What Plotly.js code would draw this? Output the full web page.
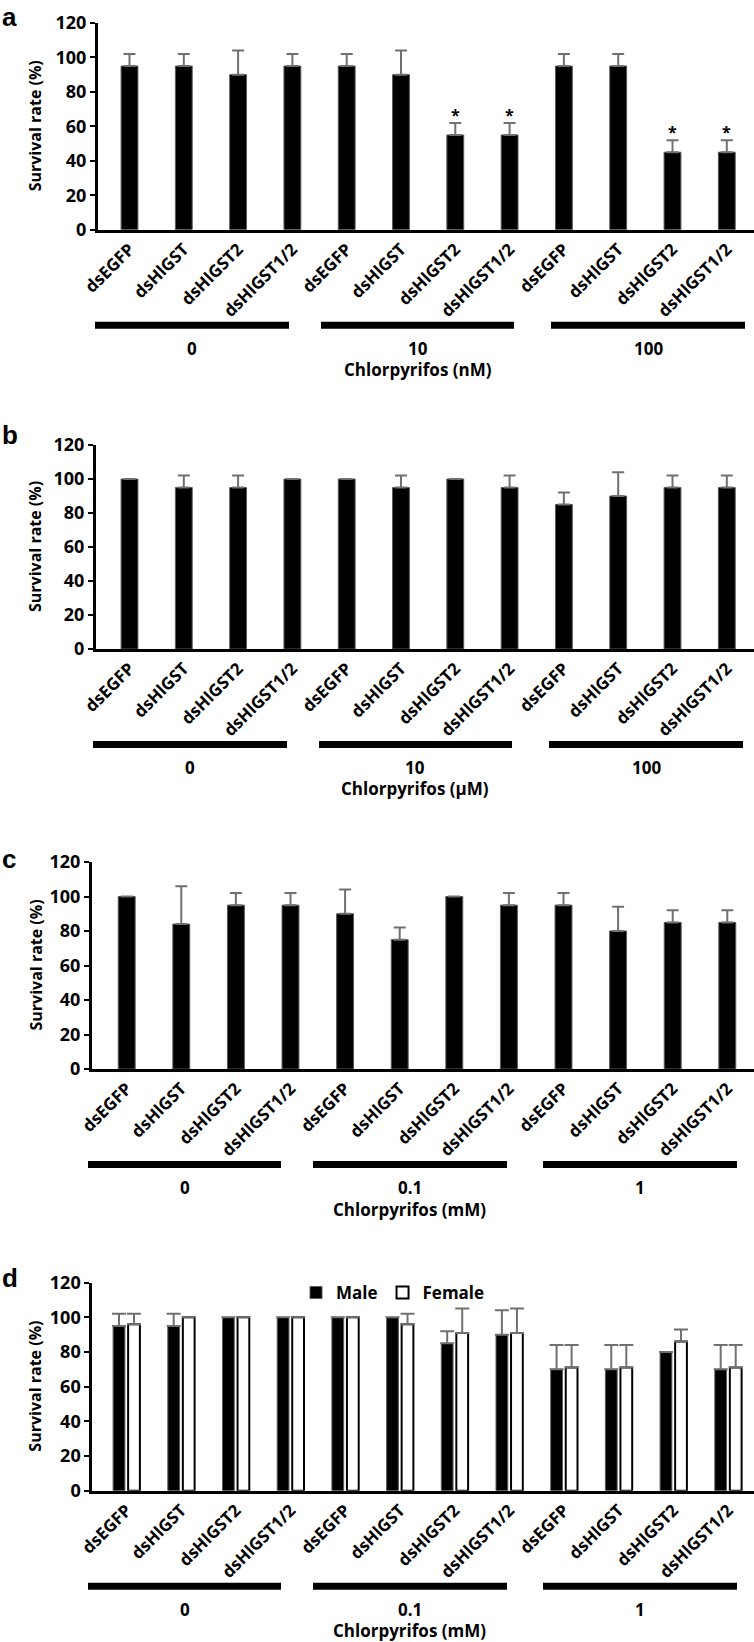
<!DOCTYPE html>
<html>
<head>
<meta charset="utf-8">
<script src="https://cdn.plot.ly/plotly-3.0.1.min.js"></script>
<style>
  html, body { margin: 0; padding: 0; background: #ffffff; }
  #chart { width: 754px; height: 1642px; }
</style>
</head>
<body>
<div id="chart"></div>
<script>
// ---------- data ----------
const treatments = ['dsEGFP', 'dsHlGST', 'dsHlGST2', 'dsHlGST1/2'];
const tickLabels = treatments.concat(treatments, treatments);

const dosesA = ['0', '10', '100'];
const dosesB = ['0', '10', '100'];
const dosesC = ['0', '0.1', '1'];
const dosesD = ['0', '0.1', '1'];
const doseTitleA = 'Chlorpyrifos (nM)';
const doseTitleB = 'Chlorpyrifos (μM)';
const doseTitleC = 'Chlorpyrifos (mM)';
const doseTitleD = 'Chlorpyrifos (mM)';

const survivalA = [95, 95, 90, 95, 95, 90, 55, 55, 95, 95, 45, 45];
const errorA    = [7, 7, 14, 7, 7, 14, 7, 7, 7, 7, 7, 7];
const signifA   = [0, 0, 0, 0, 0, 0, 1, 1, 0, 0, 1, 1];

const survivalB = [100, 95, 95, 100, 100, 95, 100, 95, 85, 90, 95, 95];
const errorB    = [0, 7, 7, 0, 0, 7, 0, 7, 7, 14, 7, 7];

const survivalC = [100, 84, 95, 95, 90, 75, 100, 95, 95, 80, 85, 85];
const errorC    = [0, 22, 7, 7, 14, 7, 0, 7, 7, 14, 7, 7];

const seriesNames = ['Male', 'Female'];
const maleD      = [95, 95, 100, 100, 100, 100, 85, 90, 70, 70, 80, 70];
const maleErrD   = [7, 7, 0, 0, 0, 0, 7, 14, 14, 14, 0, 14];
const femaleD    = [96, 100, 100, 100, 100, 96, 91, 91, 71, 71, 86, 71];
const femaleErrD = [6, 0, 0, 0, 0, 6, 14, 14, 13, 13, 7, 13];

const yTitle = 'Survival rate (%)';
const panelLetters = ['a', 'b', 'c', 'd'];

// ---------- layout helpers ----------
const W = 754, H = 1642;
const FONT = '"Open Sans", Lato, "DejaVu Sans", sans-serif';
const px = x => x / W;
const py = y => 1 - y / H;
const idx = tickLabels.map((_, i) => i);

// pixel geometry of each panel (frame only)
const panels = [
  { axisX: 98,  zeroY: 229.7,  topY: 23,     bar0: 129.5, unit: 54.3, letterY: 0,
    lines: [[95, 289], [321, 514], [551, 745]], doses: dosesA, title: doseTitleA },
  { axisX: 96,  zeroY: 649,    topY: 445,    bar0: 129.5, unit: 54.3, letterY: 418,
    lines: [[93, 287], [319, 512], [549, 743]], doses: dosesB, title: doseTitleB },
  { axisX: 92,  zeroY: 1069,   topY: 862,    bar0: 126.7, unit: 54.6, letterY: 842,
    lines: [[88, 281], [313, 507], [543, 737]], doses: dosesC, title: doseTitleC },
  { axisX: 92.3, zeroY: 1490.7, topY: 1282.6, bar0: 126.5, unit: 54.7, letterY: 1261,
    lines: [[88, 281], [313, 507], [543, 737]], doses: dosesD, title: doseTitleD }
];

const ERR_COLOR = '#707070';
function errUp(arr, w) {
  return { type: 'data', symmetric: false, array: arr, arrayminus: arr.map(() => 0),
           color: ERR_COLOR, thickness: 2, width: w, visible: true };
}

const data = [];
const singleSeries = [[survivalA, errorA], [survivalB, errorB], [survivalC, errorC]];
singleSeries.forEach((s, k) => {
  const suf = k === 0 ? '' : String(k + 1);
  data.push({
    type: 'bar', x: idx, y: s[0], width: 0.31,
    xaxis: 'x' + suf, yaxis: 'y' + suf, showlegend: false,
    marker: { color: '#000000', line: { color: '#5a5a5a', width: 1 } },
    error_y: errUp(s[1], 6), hoverinfo: 'skip'
  });
});
data.push({
  type: 'bar', name: seriesNames[0], x: idx, y: maleD, width: 0.215, offset: -0.245,
  xaxis: 'x4', yaxis: 'y4', showlegend: true,
  marker: { color: '#000000', line: { color: '#5a5a5a', width: 1 } },
  error_y: errUp(maleErrD, 7), hoverinfo: 'skip'
});
data.push({
  type: 'bar', name: seriesNames[1], x: idx, y: femaleD, width: 0.215, offset: 0.03,
  xaxis: 'x4', yaxis: 'y4', showlegend: true,
  marker: { color: '#ffffff', line: { color: '#000000', width: 2 } },
  error_y: errUp(femaleErrD, 7), hoverinfo: 'skip'
});

const layout = {
  width: W, height: H,
  margin: { l: 0, r: 0, t: 0, b: 0, pad: 0 },
  paper_bgcolor: '#ffffff', plot_bgcolor: 'rgba(0,0,0,0)',
  barmode: 'overlay',
  font: { family: FONT, color: '#000000' },
  showlegend: true,
  legend: {
    orientation: 'h', x: px(296), y: py(1293), xanchor: 'left', yanchor: 'middle',
    font: { family: FONT, size: 17, weight: 'bold', color: '#000000' },
    itemwidth: 30, bgcolor: 'rgba(0,0,0,0)', traceorder: 'normal'
  },
  shapes: [], annotations: []
};

panels.forEach((p, k) => {
  const suf = k === 0 ? '' : String(k + 1);
  const r0 = -(p.bar0 - p.axisX) / p.unit;
  const r1 = r0 + (W - p.axisX) / p.unit;
  layout['xaxis' + suf] = {
    anchor: 'y' + suf, domain: [px(p.axisX), 1], range: [r0, r1],
    tickmode: 'array', tickvals: idx, ticktext: tickLabels, tickangle: -45,
    tickfont: { family: FONT, size: 17, weight: 'bold', color: '#000000' },
    ticks: '', showline: true, linewidth: 3, linecolor: '#000000',
    showgrid: false, zeroline: false, fixedrange: true
  };
  layout['yaxis' + suf] = {
    anchor: 'x' + suf, domain: [py(p.zeroY), py(p.topY)], range: [0, 120],
    tickmode: 'linear', tick0: 0, dtick: 20,
    tickfont: { family: FONT, size: 18, weight: 'bold', color: '#000000' },
    ticks: 'outside', ticklen: 5, tickwidth: 2, tickcolor: '#000000',
    showline: true, linewidth: 3, linecolor: '#000000',
    showgrid: false, zeroline: false, fixedrange: true
  };
  // y title
  layout.annotations.push({
    xref: 'paper', yref: 'paper', x: px(35), y: py((p.zeroY + p.topY) / 2),
    text: yTitle, textangle: -90, showarrow: false, xanchor: 'center', yanchor: 'middle',
    font: { family: FONT, size: 16, weight: 'bold', color: '#000000' }
  });
  // panel letter
  layout.annotations.push({
    xref: 'paper', yref: 'paper', x: 0, y: py(p.letterY),
    text: panelLetters[k], showarrow: false, xanchor: 'left', yanchor: 'top',
    font: { family: '"Liberation Sans", Arial, sans-serif', size: 26, weight: 'bold', color: '#000000' }
  });
  // dose group bars and labels
  p.lines.forEach((ln, g) => {
    layout.shapes.push({
      type: 'line', xref: 'paper', yref: 'paper',
      x0: px(ln[0]), x1: px(ln[1]), y0: py(p.zeroY + 95.5), y1: py(p.zeroY + 95.5),
      line: { color: '#000000', width: 7 }
    });
    layout.annotations.push({
      xref: 'paper', yref: 'paper', x: px((ln[0] + ln[1]) / 2), y: py(p.zeroY + 118.5),
      text: p.doses[g], showarrow: false, xanchor: 'center', yanchor: 'middle',
      font: { family: FONT, size: 17, weight: 'bold', color: '#000000' }
    });
  });
  layout.annotations.push({
    xref: 'paper', yref: 'paper', x: px((p.lines[1][0] + p.lines[1][1]) / 2), y: py(p.zeroY + 140),
    text: p.title, showarrow: false, xanchor: 'center', yanchor: 'middle',
    font: { family: FONT, size: 17, weight: 'bold', color: '#000000' }
  });
});

// significance asterisks (panel a)
signifA.forEach((s, i) => {
  if (!s) return;
  layout.annotations.push({
    xref: 'x', yref: 'y', x: i, y: survivalA[i] + errorA[i] + 4.5,
    text: '*', showarrow: false, xanchor: 'center', yanchor: 'middle',
    font: { family: FONT, size: 16, weight: 'bold', color: '#000000' }
  });
});

Plotly.newPlot('chart', data, layout, { staticPlot: true, displayModeBar: false });
</script>
</body>
</html>
